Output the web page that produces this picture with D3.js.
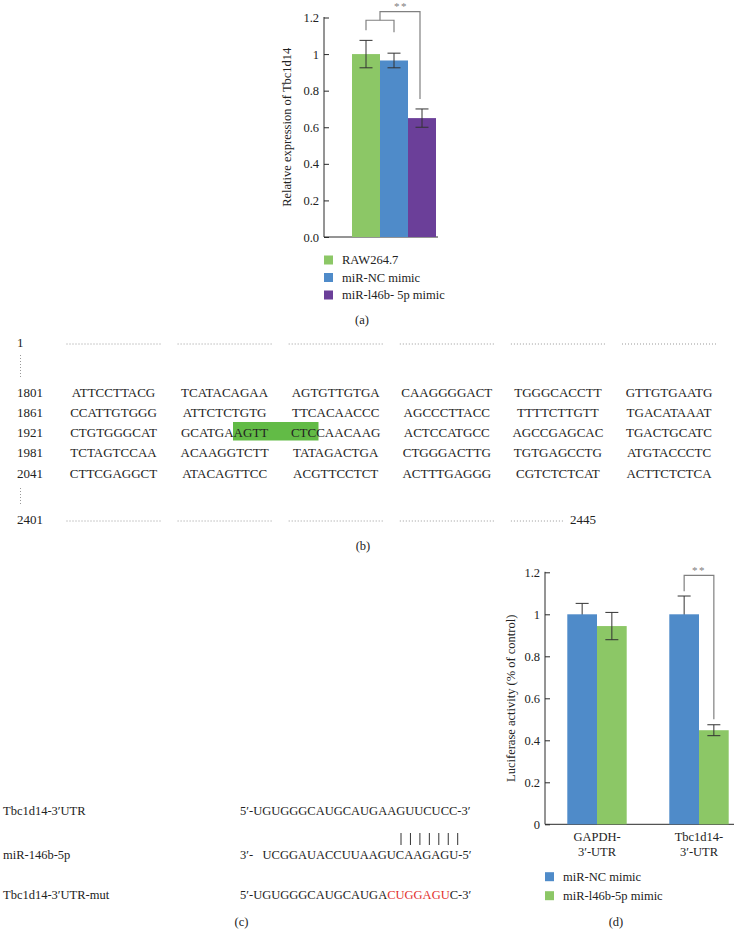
<!DOCTYPE html>
<html>
<head>
<meta charset="utf-8">
<script src="https://cdn.jsdelivr.net/npm/d3@7"></script>
<style>
  html, body { margin: 0; padding: 0; background: #fff; }
  svg { display: block; font-family: "Liberation Serif", "DejaVu Serif", serif; }
</style>
</head>
<body>
<svg id="chart" width="734" height="939"></svg>
<script>
// ---------- DATA ----------
// Panel (a)
const expCategories = ["RAW264.7", "miR-NC mimic", "miR-l46b- 5p mimic"];
const expValues = [1.0, 0.965, 0.65];
const expErrors = [0.075, 0.04, 0.05];
const expColors = ["#8cc766", "#4f8bc9", "#6b3f99"];
const expTicks = [0, 0.2, 0.4, 0.6, 0.8, 1, 1.2];
const expTickLabels = ["0.0", "0.2", "0.4", "0.6", "0.8", "1", "1.2"];
const expYLabel = "Relative expression of Tbc1d14";

// Panel (b)
const seqRowLabels = ["1801", "1861", "1921", "1981", "2041"];
const seqCol1 = ["ATTCCTTACG", "CCATTGTGGG", "CTGTGGGCAT", "TCTAGTCCAA", "CTTCGAGGCT"];
const seqCol2 = ["TCATACAGAA", "ATTCTCTGTG", "GCATGAAGTT", "ACAAGGTCTT", "ATACAGTTCC"];
const seqCol3 = ["AGTGTTGTGA", "TTCACAACCC", "CTCCAACAAG", "TATAGACTGA", "ACGTTCCTCT"];
const seqCol4 = ["CAAGGGGACT", "AGCCCTTACC", "ACTCCATGCC", "CTGGGACTTG", "ACTTTGAGGG"];
const seqCol5 = ["TGGGCACCTT", "TTTTCTTGTT", "AGCCGAGCAC", "TGTGAGCCTG", "CGTCTCTCAT"];
const seqCol6 = ["GTTGTGAATG", "TGACATAAAT", "TGACTGCATC", "ATGTACCCTC", "ACTTCTCTCA"];
const seqFirst = "1";
const seqLastStart = "2401";
const seqEnd = "2445";

// Panel (c)
const pairNames = ["Tbc1d14-3\u2032UTR", "miR-146b-5p", "Tbc1d14-3\u2032UTR-mut"];
const pairSeqs = [
  [["5\u2032-UGUGGGCAUGCAUGAAGUUCUCC-3\u2032", false]],
  [["3\u2032-   UCGGAUACCUUAAGUCAAGAGU-5\u2032", false]],
  [["5\u2032-UGUGGGCAUGCAUGA", false], ["CUGGAGU", true], ["C-3\u2032", false]]
];
const pairLinks = 7;

// Panel (d)
const lucGroups = ["GAPDH-|3\u2032-UTR", "Tbc1d14-|3\u2032-UTR"];
const lucSeries = ["miR-NC mimic", "miR-l46b-5p mimic"];
const lucNC = [1.0, 1.0];
const lucNCErr = [0.052, 0.087];
const lucMimic = [0.944, 0.448];
const lucMimicErr = [0.065, 0.026];
const lucColors = ["#4f8bc9", "#8cc766"];
const lucTicks = [0, 0.2, 0.4, 0.6, 0.8, 1, 1.2];
const lucTickLabels = ["0", "0.2", "0.4", "0.6", "0.8", "1", "1.2"];
const lucYLabel = "Luciferase activity (% of control)";

// ---------- DRAW ----------
const svg = d3.select("#chart");
const axisColor = "#2a2a2a";
const errColor = "#333";
const brColor = "#808080";
const textColor = "#222";

function styleAxis(g) {
  g.selectAll("path, line").attr("stroke", axisColor).attr("stroke-width", 1);
  g.selectAll("text").attr("font-family", "Liberation Serif, serif").attr("font-size", 12.5).attr("fill", textColor);
}

// ===== Panel (a) =====
{
  const x = d3.scaleBand().domain(expCategories).range([352, 436]).padding(0);
  const y = d3.scaleLinear().domain([0, 1.2]).range([237, 17.5]);
  const g = svg.append("g");

  g.append("g").attr("transform", "translate(324,0)")
    .call(d3.axisLeft(y).tickValues(expTicks).tickFormat((d, i) => expTickLabels[i]).tickSize(-5).tickSizeOuter(0).tickPadding(5))
    .call(styleAxis)
    .call(a => a.select(".domain").attr("d", `M0,${y(0)}V${y(1.2) - 0.5}`));
  g.append("line").attr("x1", 324).attr("x2", 438).attr("y1", y(0)).attr("y2", y(0)).attr("stroke", axisColor);

  g.selectAll("rect.bar").data(expCategories).join("rect")
    .attr("x", d => x(d)).attr("width", x.bandwidth())
    .attr("y", (d, i) => y(expValues[i])).attr("height", (d, i) => y(0) - y(expValues[i]))
    .attr("fill", (d, i) => expColors[i]);

  expCategories.forEach((c, i) => {
    const cx = x(c) + x.bandwidth() / 2;
    const t = y(expValues[i] + expErrors[i]), b = y(expValues[i] - expErrors[i]);
    g.append("path").attr("d", `M${cx},${t}V${b}M${cx - 6.5},${t}H${cx + 6.5}M${cx - 6.5},${b}H${cx + 6.5}`)
      .attr("stroke", errColor).attr("fill", "none").attr("stroke-width", 1);
  });

  // significance brackets
  const c0 = x(expCategories[0]) + x.bandwidth() / 2;
  const c1 = x(expCategories[1]) + x.bandwidth() / 2;
  const c2 = x(expCategories[2]) + x.bandwidth() / 2;
  const yb1 = y(1.185), yb2 = y(1.232);
  const mid = (c0 + c1) / 2;
  g.append("path").attr("d", `M${c0},${y(1.13)}V${yb1}H${c1}V${y(1.12)}`)
    .attr("stroke", brColor).attr("fill", "none").attr("stroke-width", 1.2);
  g.append("path").attr("d", `M${mid},${yb1}V${yb2}H${c2 - 2}V${y(0.755)}`)
    .attr("stroke", brColor).attr("fill", "none").attr("stroke-width", 1.2);
  g.append("text").attr("x", (mid + c2) / 2).attr("y", 10).attr("text-anchor", "middle")
    .attr("font-size", 11).attr("fill", brColor).attr("letter-spacing", 1.5).text("**");

  g.append("text").attr("transform", `translate(291,${(y(0) + y(1.2)) / 2}) rotate(-90)`)
    .attr("text-anchor", "middle").attr("font-size", 12.5).attr("fill", textColor).text(expYLabel);

  // legend
  const lg = g.append("g");
  expCategories.forEach((c, i) => {
    const yy = 260 + i * 17.5;
    lg.append("rect").attr("x", 324).attr("y", yy - 4.5).attr("width", 9).attr("height", 9).attr("fill", expColors[i]);
    lg.append("text").attr("x", 342).attr("y", yy + 4).attr("font-size", 12.5).attr("fill", textColor).text(c);
  });
  g.append("text").attr("x", 362).attr("y", 324).attr("text-anchor", "middle").attr("font-size", 12.5).attr("fill", textColor).text("(a)");
}

// ===== Panel (b) =====
{
  const g = svg.append("g");
  const cols = [seqCol1, seqCol2, seqCol3, seqCol4, seqCol5, seqCol6];
  const colX = d3.scalePoint().domain(d3.range(6)).range([113.5, 669]);
  const rowY = d3.scalePoint().domain(seqRowLabels).range([392, 473]);
  const fs = 13;
  const dotted = (x1, x2, yy) => g.append("line").attr("x1", x1).attr("x2", x2).attr("y1", yy).attr("y2", yy)
    .attr("stroke", "#999").attr("stroke-width", 1).attr("stroke-dasharray", "1,2");
  const vdotted = (y1, y2) => g.append("line").attr("x1", 20.5).attr("x2", 20.5).attr("y1", y1).attr("y2", y2)
    .attr("stroke", "#999").attr("stroke-width", 1).attr("stroke-dasharray", "1,2");

  // highlight
  g.append("rect").attr("x", 233).attr("y", 422).attr("width", 85.5).attr("height", 18.5).attr("fill", "#62bb46");

  // first row
  g.append("text").attr("x", 17).attr("y", 347).attr("font-size", fs).attr("fill", textColor).text(seqFirst);
  d3.range(6).forEach(i => dotted(colX(i) - 47, colX(i) + 47, 344));
  vdotted(355, 378);

  seqRowLabels.forEach((lab, r) => {
    const yy = rowY(lab) + 4.5;
    g.append("text").attr("x", 17).attr("y", yy).attr("font-size", fs).attr("fill", textColor).text(lab);
    cols.forEach((col, ci) => {
      g.append("text").attr("x", colX(ci)).attr("y", yy).attr("text-anchor", "middle")
        .attr("font-size", fs).attr("fill", textColor).text(col[r]);
    });
  });

  vdotted(488, 506);
  g.append("text").attr("x", 17).attr("y", 524).attr("font-size", fs).attr("fill", textColor).text(seqLastStart);
  d3.range(4).forEach(i => dotted(colX(i) - 47, colX(i) + 47, 521));
  dotted(colX(4) - 47, colX(4) + 5, 521);
  g.append("text").attr("x", colX(4) + 12).attr("y", 524).attr("font-size", fs).attr("fill", textColor).text(seqEnd);

  g.append("text").attr("x", 363).attr("y", 550).attr("text-anchor", "middle").attr("font-size", 12.5).attr("fill", textColor).text("(b)");
}

// ===== Panel (c) =====
{
  const g = svg.append("g");
  const ys = [815, 859, 899];
  pairNames.forEach((n, i) => {
    g.append("text").attr("x", 3).attr("y", ys[i]).attr("font-size", 12.5).attr("fill", textColor).text(n);
    const t = g.append("text").attr("x", 240).attr("y", ys[i]).attr("font-size", 12.5).attr("fill", textColor)
      .attr("xml:space", "preserve").style("white-space", "pre");
    pairSeqs[i].forEach(([s, red]) => t.append("tspan").attr("fill", red ? "#e2302d" : textColor).text(s));
  });
  const lx = d3.scaleLinear().domain([0, pairLinks - 1]).range([401, 457.7]);
  d3.range(pairLinks).forEach(k => {
    g.append("line").attr("x1", lx(k)).attr("x2", lx(k)).attr("y1", 833).attr("y2", 845).attr("stroke", "#333").attr("stroke-width", 1);
  });
  g.append("text").attr("x", 241.5).attr("y", 926).attr("text-anchor", "middle").attr("font-size", 12.5).attr("fill", textColor).text("(c)");
}

// ===== Panel (d) =====
{
  const g = svg.append("g");
  const x0 = d3.scaleBand().domain(lucGroups).range([546, 750]).padding(0);
  const x1 = d3.scaleBand().domain(lucSeries).range([-29.7, 29.7]).padding(0);
  const y = d3.scaleLinear().domain([0, 1.2]).range([824.3, 572.3]);

  g.append("g").attr("transform", "translate(545,0)")
    .call(d3.axisLeft(y).tickValues(lucTicks).tickFormat((d, i) => lucTickLabels[i]).tickSize(-5).tickSizeOuter(0).tickPadding(5))
    .call(styleAxis)
    .call(a => a.select(".domain").attr("d", `M0,${y(0)}V${y(1.2) - 0.5}`));
  g.append("line").attr("x1", 545).attr("x2", 734).attr("y1", y(0)).attr("y2", y(0)).attr("stroke", axisColor);

  const seriesVals = [lucNC, lucMimic];
  const seriesErr = [lucNCErr, lucMimicErr];
  lucGroups.forEach((grp, gi) => {
    const gc = x0(grp) + x0.bandwidth() / 2;
    lucSeries.forEach((s, si) => {
      const v = seriesVals[si][gi], e = seriesErr[si][gi];
      const bx = gc + x1(s), cx = bx + x1.bandwidth() / 2;
      const t = y(v + e), b = y(v - e);
      const err = () => g.append("path").attr("d", `M${cx},${t}V${b}M${cx - 6.5},${t}H${cx + 6.5}M${cx - 6.5},${b}H${cx + 6.5}`)
        .attr("stroke", errColor).attr("fill", "none").attr("stroke-width", 1);
      if (si === 0) err();
      g.append("rect").attr("x", bx).attr("width", x1.bandwidth()).attr("y", y(v)).attr("height", y(0) - y(v)).attr("fill", lucColors[si]);
      if (si === 1) err();
    });
    const parts = grp.split("|");
    parts.forEach((p, k) => {
      g.append("text").attr("x", gc).attr("y", 841 + k * 15).attr("text-anchor", "middle").attr("font-size", 12.5).attr("fill", textColor).text(p);
    });
  });

  // bracket
  const gc2 = x0(lucGroups[1]) + x0.bandwidth() / 2;
  const cA = gc2 + x1(lucSeries[0]) + x1.bandwidth() / 2;
  const cB = gc2 + x1(lucSeries[1]) + x1.bandwidth() / 2;
  g.append("path").attr("d", `M${cA},${y(1.11)}V${y(1.185)}H${cB}V${y(0.5)}`)
    .attr("stroke", brColor).attr("fill", "none").attr("stroke-width", 1.2);
  g.append("text").attr("x", (cA + cB) / 2).attr("y", 574).attr("text-anchor", "middle")
    .attr("font-size", 11).attr("fill", brColor).attr("letter-spacing", 1.5).text("**");

  g.append("text").attr("transform", `translate(515,${(y(0) + y(1.2)) / 2}) rotate(-90)`)
    .attr("text-anchor", "middle").attr("font-size", 12.5).attr("fill", textColor).text(lucYLabel);

  lucSeries.forEach((s, i) => {
    const yy = 876.7 + i * 19;
    g.append("rect").attr("x", 545).attr("y", yy - 4.5).attr("width", 9).attr("height", 9).attr("fill", lucColors[i]);
    g.append("text").attr("x", 563).attr("y", yy + 4).attr("font-size", 12.5).attr("fill", textColor).text(s);
  });
  g.append("text").attr("x", 616).attr("y", 926).attr("text-anchor", "middle").attr("font-size", 12.5).attr("fill", textColor).text("(d)");
}
</script>
</body>
</html>
